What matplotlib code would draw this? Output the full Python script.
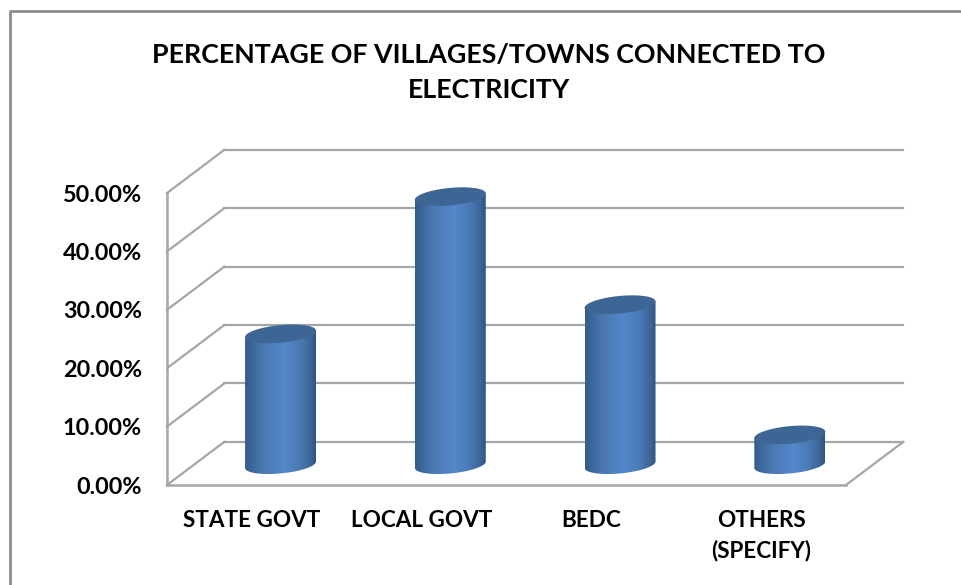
# Fake 3D cylinder chart built on a normal 2D axes
import numpy as np
import matplotlib
matplotlib.use("Agg")
import matplotlib.pyplot as plt
from matplotlib.colors import LinearSegmentedColormap
from matplotlib.lines import Line2D
from matplotlib.patches import Polygon

# Data
categories = ["STATE GOVT", "LOCAL GOVT", "BEDC", "OTHERS\n(SPECIFY)"]
values = [22.4, 45.9, 27.4, 5.1]
y_ticks = [0, 10, 20, 30, 40, 50]
y_tick_labels = ["0.00%", "10.00%", "20.00%", "30.00%", "40.00%", "50.00%"]
chart_title = "PERCENTAGE OF VILLAGES/TOWNS CONNECTED TO\nELECTRICITY"

W, H = 961, 585
GRID = "#a6a6a6"
BORDER = "#8c8c8c"

# depth of the back wall, in data units
DEPTH_X = 0.338
DEPTH_Y = 7.4
BAR_DEPTH = 0.47  # bars stand this far back on the floor
BAR_SHIFT = 0.01
A = 0.209  # cylinder half width
B = 1.5    # cylinder ellipse half height
S = 0.55   # ellipse tilt

plt.rcParams["font.family"] = ["Lato", "DejaVu Sans"]
plt.rcParams["font.weight"] = "bold"

fig = plt.figure(figsize=(W / 100, H / 100), dpi=100)
ax = fig.add_axes([167 / W, 1 - 485 / H, (846 - 167) / W, (485 - 193) / H])
ax.set_xlim(-0.5, 3.5)
ax.set_ylim(0, 50)

# outer chart frame, only left and top show
fig.add_artist(Line2D([9.5 / W, 9.5 / W, 1], [0, 1 - 11 / H, 1 - 11 / H],
                      transform=fig.transFigure, color=BORDER, linewidth=2))

# walls and floor
for v in y_ticks:
    ax.plot([-0.5, -0.5 + DEPTH_X], [v, v + DEPTH_Y], color=GRID, lw=1.6,
            clip_on=False, zorder=1)
    ax.plot([-0.5 + DEPTH_X, 3.5 + DEPTH_X], [v + DEPTH_Y, v + DEPTH_Y],
            color=GRID, lw=1.6, clip_on=False, zorder=1)
ax.plot([3.5, 3.5 + DEPTH_X], [0, DEPTH_Y], color=GRID, lw=1.6,
        clip_on=False, zorder=1)

# cylinder shading, dark at the edges
shade = LinearSegmentedColormap.from_list(
    "shade", [(0, "#345c8c"), (0.25, "#4a78b0"), (0.55, "#5488cc"),
              (0.78, "#4a79b5"), (0.92, "#3d6696"), (1, "#2f5482")])
gradient = np.linspace(0, 1, 256).reshape(1, -1)

t_low = np.linspace(np.pi, 2 * np.pi, 60)
t_all = np.linspace(0, 2 * np.pi, 120)
for i, v in enumerate(values):
    cx = i + DEPTH_X * BAR_DEPTH + BAR_SHIFT
    base = DEPTH_Y * BAR_DEPTH
    top = base + v

    # outline: lower arc of the base, then up and across the top
    low_x = cx + A * np.cos(t_low)
    low_y = base + B * np.sin(t_low) + S * np.cos(t_low)
    body_x = np.r_[low_x, cx + A, cx - A]
    body_y = np.r_[low_y, top + S, top - S]
    body = Polygon(np.c_[body_x, body_y], closed=True, transform=ax.transData,
                   facecolor="none", edgecolor="none")
    ax.add_patch(body)
    im = ax.imshow(gradient, extent=[cx - A, cx + A, base - B - S, top + S],
                   aspect="auto", cmap=shade, zorder=3, interpolation="bilinear")
    im.set_clip_path(body)
    im.set_clip_box(fig.bbox)

    # top cap
    ax.fill(cx + A * np.cos(t_all), top + B * np.sin(t_all) + S * np.cos(t_all),
            color="#3d6694", zorder=4, clip_on=False, linewidth=0)

ax.set_xlim(-0.5, 3.5)
ax.set_ylim(0, 50)
ax.set_aspect("auto")

# axes and labels
for side in ["top", "right"]:
    ax.spines[side].set_visible(False)
for side in ["left", "bottom"]:
    ax.spines[side].set_color(GRID)
    ax.spines[side].set_linewidth(1.8)
ax.patch.set_alpha(0)
ax.set_xticks(range(len(categories)))
ax.set_xticklabels(categories, fontsize=16.2, color="black", linespacing=1.48,
                   va="top")
ax.set_yticks(y_ticks)
ax.set_yticklabels(y_tick_labels, fontsize=16.8, color="black")
ax.tick_params(axis="x", length=0, pad=18)
ax.tick_params(axis="y", length=0, pad=18)

fig.text(489 / W, 1 - 72 / H, chart_title, ha="center", va="center",
         fontsize=19.3, linespacing=1.55, color="black")

fig.savefig("out.png", dpi=100, facecolor="white")
